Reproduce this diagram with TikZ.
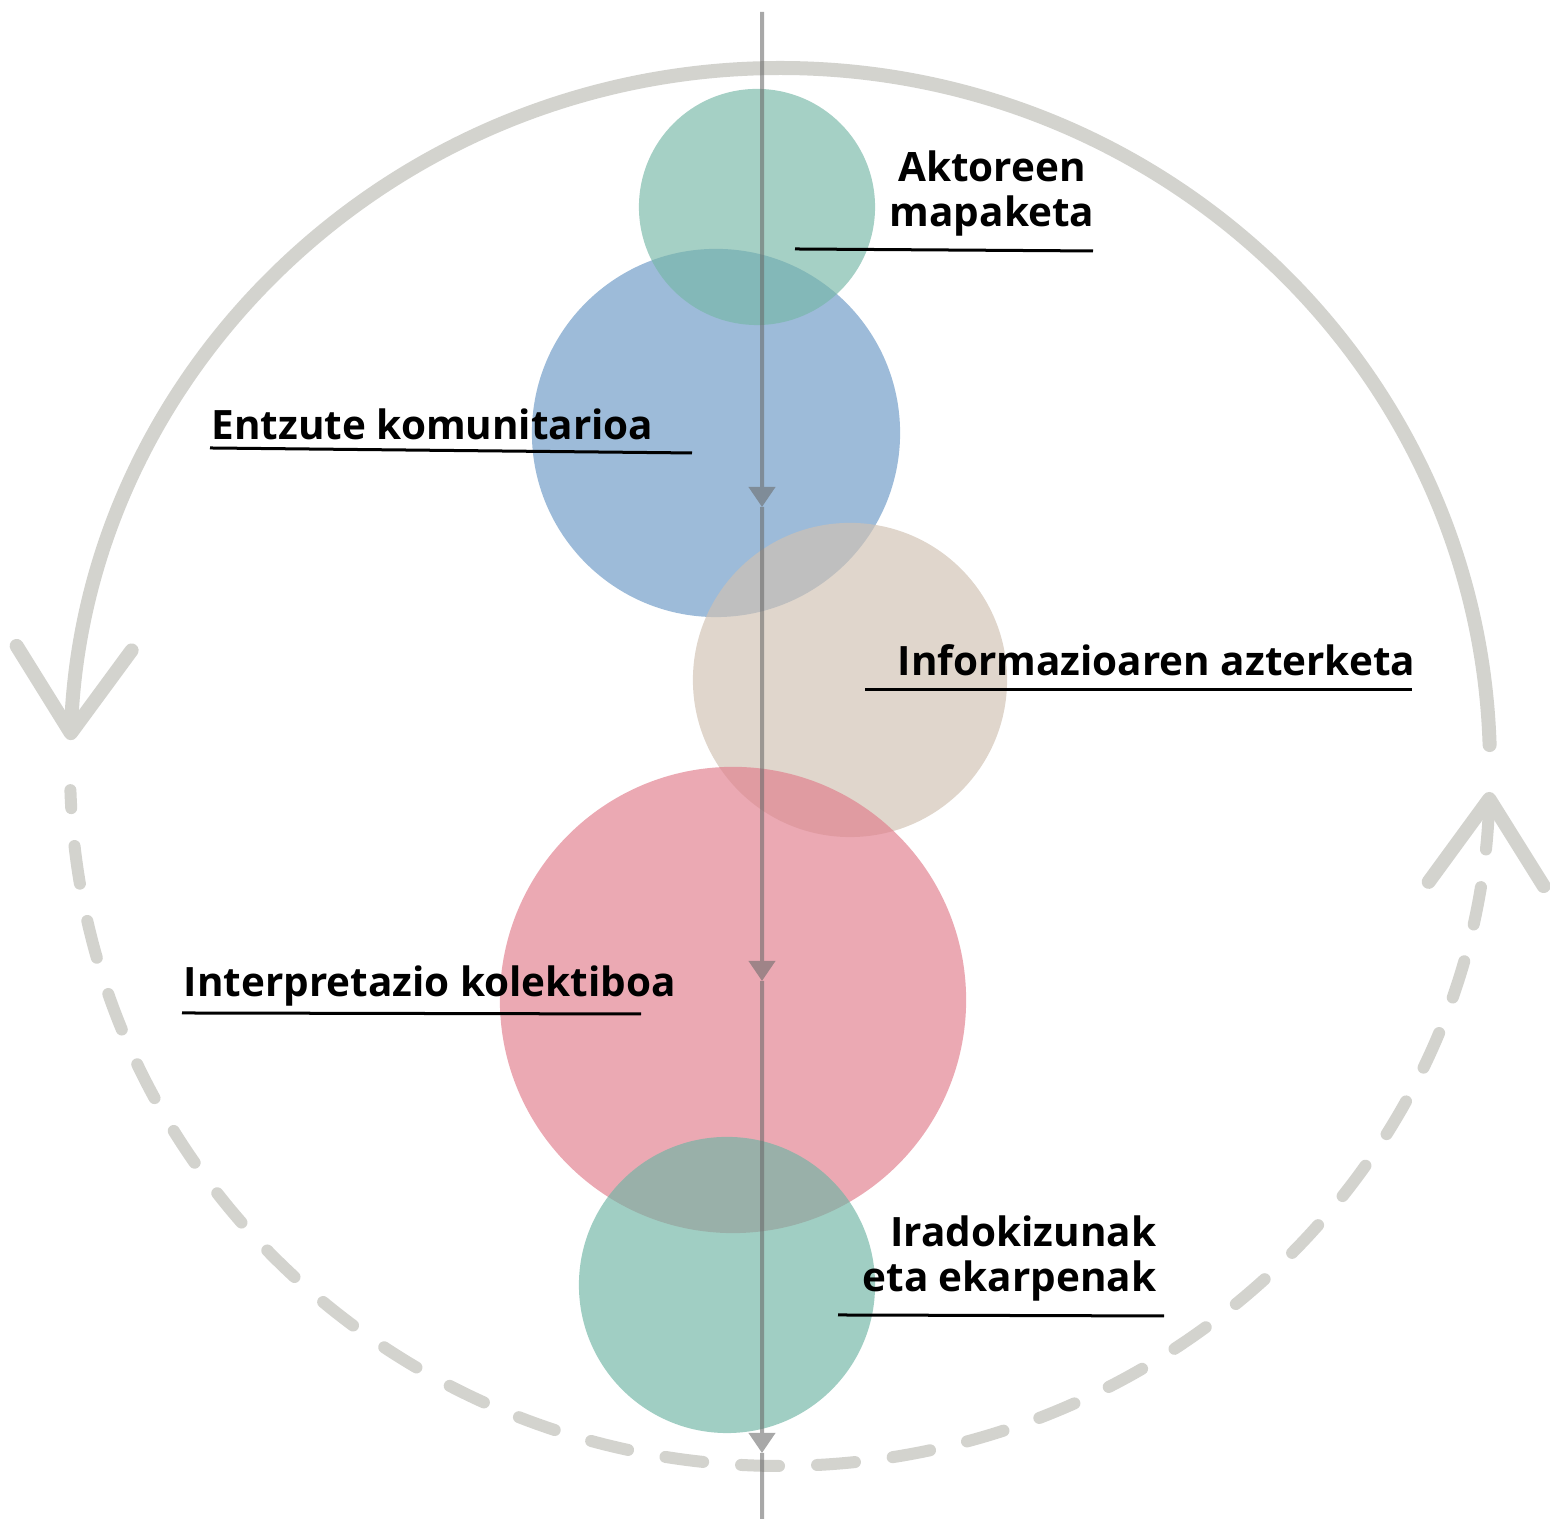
\documentclass[tikz,border=0pt]{standalone}
\usepackage{fontspec}
\setmainfont{Open Sans}
\usetikzlibrary{arrows.meta}
\definecolor{tealc}{RGB}{119,183,167}
\definecolor{teald}{RGB}{111,181,164}
\definecolor{bluec}{RGB}{106,152,197}
\definecolor{beigec}{RGB}{208,193,178}
\definecolor{pinkc}{RGB}{225,125,140}
\definecolor{cyclec}{RGB}{211,211,206}
\definecolor{axisc}{RGB}{105,105,105}
\tikzset{
  blob/.style={circle, inner sep=0, fill=#1, fill opacity=0.66},
  cyc/.style={cyclec, line width=0.14cm, line cap=round},
  cycdash/.style={cyclec, line width=0.12cm, line cap=round,
    dash pattern=on 0.38cm off 0.38cm, dash phase=0.2cm},
  barb/.style={-{Straight Barb[length=0.85cm,width=1.15cm,round,line width=0.14cm]}},
  axis/.style={axisc, line width=0.04cm},
  tri/.style={-{Triangle[width=0.26cm,length=0.2cm]}},
  lbl/.style={font=\bfseries\fontsize{11.5}{13}\selectfont, inner sep=0},
  uline/.style={line width=0.03cm, black}
}
\begin{document}
\begin{tikzpicture}[x=0.01cm,y=0.01cm]
\useasboundingbox (0,0) rectangle (1550,1519);
% cycle round the steps
\coordinate (cyc) at (780,752);
\draw[cyc,barb] ([shift={(1.8:710 and 699)}]cyc)
  arc[start angle=1.8, end angle=177.8, x radius=710, y radius=699];
\draw[cycdash,barb] ([shift={(181.9:710 and 699)}]cyc)
  arc[start angle=181.9, end angle=357.95, x radius=710, y radius=699];
% steps
\node[blob=bluec, minimum size=3.68cm] (entzute) at (716,1086) {};
\node[blob=tealc, minimum size=2.36cm] (aktore) at (757,1312) {};
\node[blob=beigec, minimum size=3.14cm] (info) at (850,839) {};
\node[blob=pinkc, minimum size=4.66cm] (interp) at (733,519) {};
\node[blob=teald, minimum size=2.96cm] (irado) at (727,234) {};
% axis
\coordinate (top) at (762,1507);
\coordinate (a1) at (762,1012);
\coordinate (a2) at (762,538);
\coordinate (a3) at (762,66);
\coordinate (bot) at (762,0);
\begin{scope}[transparency group, opacity=0.58]
\draw[axis,tri] (top) -- (a1);
\draw[axis,tri] (a1) -- (a2);
\draw[axis,tri] (a2) -- (a3);
\draw[axis] (a3) -- (bot);
\end{scope}
% labels
\node[lbl, align=center, anchor=base] (taktore) at (992,1292) {Aktoreen\\mapaketa};
\node[lbl, anchor=base west] (tentzute) at (211,1079) {Entzute komunitarioa};
\node[lbl, anchor=base west] (tinfo) at (897,843) {Informazioaren azterketa};
\node[lbl, anchor=base west] (tinterp) at (183,522) {Interpretazio kolektiboa};
\node[lbl, align=right, anchor=base east] (tirado) at (1157,227) {Iradokizunak\\eta ekarpenak};
\coordinate (u1a) at (795,1270); \coordinate (u1b) at (1093,1268);
\coordinate (u2a) at (210,1071); \coordinate (u2b) at (692,1066);
\coordinate (u3a) at (865,829);  \coordinate (u3b) at (1412,829);
\coordinate (u4a) at (182,506);  \coordinate (u4b) at (641,505);
\coordinate (u5a) at (838,204);  \coordinate (u5b) at (1164,203);
\draw[uline] (u1a) -- (u1b);
\draw[uline] (u2a) -- (u2b);
\draw[uline] (u3a) -- (u3b);
\draw[uline] (u4a) -- (u4b);
\draw[uline] (u5a) -- (u5b);
\end{tikzpicture}
\end{document}
